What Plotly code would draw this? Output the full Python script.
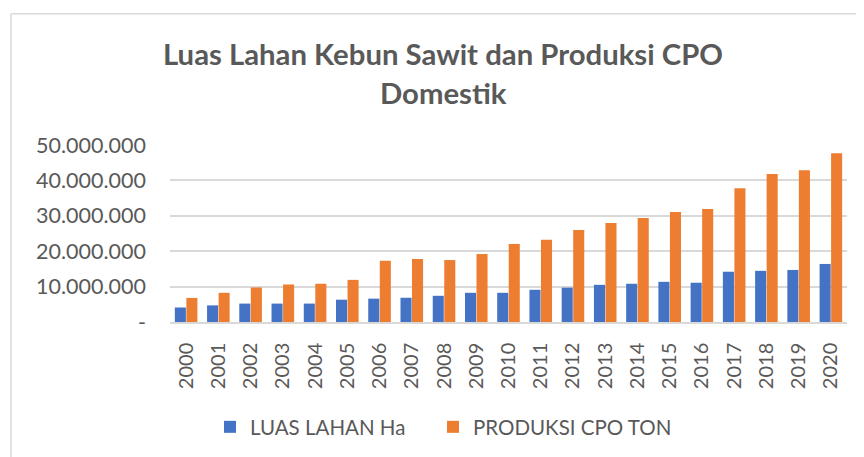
import plotly.graph_objects as go

years = [str(y) for y in range(2000, 2021)]
luas_lahan_ha = [4.1e6, 4.7e6, 5.2e6, 5.2e6, 5.2e6, 6.3e6, 6.6e6, 6.85e6, 7.4e6, 8.25e6,
                 8.25e6, 9.1e6, 9.7e6, 10.5e6, 10.8e6, 11.35e6, 11.1e6, 14.2e6, 14.45e6, 14.7e6, 16.4e6]
produksi_cpo_ton = [6.8e6, 8.25e6, 9.75e6, 10.6e6, 10.8e6, 11.9e6, 17.3e6, 17.8e6, 17.5e6, 19.2e6,
                    22.05e6, 23.2e6, 26.0e6, 28.0e6, 29.4e6, 31.1e6, 31.9e6, 37.8e6, 41.8e6, 42.9e6, 47.7e6]
y_tickvals = [0, 10e6, 20e6, 30e6, 40e6, 50e6]
y_ticktext = ["-", "10.000.000", "20.000.000", "30.000.000", "40.000.000", "50.000.000"]
title_lines = ["Luas Lahan Kebun Sawit dan Produksi CPO", "Domestik"]

FONT = "Lato"
GREY = "#595959"

# page offset caused by the default body margin
OFF = 8
W, H = 864 - OFF, 457 - OFF
# plot area in page pixels
PX0, PX1, PY0, PY1 = 170, 847, 144.7, 322.3
L = PX0 - OFF
R = W - (PX1 - OFF)
T = PY0 - OFF
B = H - (PY1 - OFF)
pw, ph = PX1 - PX0, PY1 - PY0


def px_x(px):
    return (px - PX0) / pw


def px_y(py):
    return (PY1 - py) / ph


def cx(px):
    return (px - OFF) / W


def cy(py):
    return (H - (py - OFF)) / H


fig = go.Figure()
fig.add_trace(go.Bar(x=years, y=luas_lahan_ha, name="LUAS LAHAN Ha", legend="legend2",
                     marker=dict(color="#4472C4", line=dict(width=0))))
fig.add_trace(go.Bar(x=years, y=produksi_cpo_ton, name="PRODUKSI CPO TON", legend="legend3",
                     marker=dict(color="#ED7D31", line=dict(width=0))))

legend_common = dict(orientation="h", xanchor="left", yanchor="middle",
                     xref="container", yref="container", y=cy(427),
                     font=dict(size=20.5, color=GREY), bgcolor="rgba(0,0,0,0)")

fig.update_layout(
    width=W, height=H,
    margin=dict(l=L, r=R, t=T, b=B, autoexpand=False),
    paper_bgcolor="white", plot_bgcolor="white",
    barmode="group", bargap=0.285, bargroupgap=0.04,
    font=dict(family=FONT, color=GREY),
    xaxis=dict(type="category", tickangle=-90, tickfont=dict(size=20, color=GREY),
               showgrid=False, showline=True, linecolor="#D9D9D9", linewidth=1.5,
               ticks="", ticklabelstandoff=11),
    yaxis=dict(range=[0, 50e6], tickvals=y_tickvals, ticktext=y_ticktext,
               tickfont=dict(size=21.5, color=GREY), showgrid=True, gridcolor="#D9D9D9",
               gridwidth=1.5, zeroline=False, showline=False, ticks="",
               ticklabelstandoff=23),
    legend2=dict(x=cx(210), **legend_common),
    legend3=dict(x=cx(433), **legend_common),
    annotations=[
        dict(text="<b>%s</b>" % title_lines[0], xref="paper", yref="paper",
             x=px_x(443), y=px_y(53), xanchor="center", yanchor="middle", showarrow=False,
             font=dict(family=FONT, size=29.3, color=GREY)),
        dict(text="<b>%s</b>" % title_lines[1], xref="paper", yref="paper",
             x=px_x(443), y=px_y(92), xanchor="center", yanchor="middle", showarrow=False,
             font=dict(family=FONT, size=29.3, color=GREY)),
    ],
    shapes=[
        dict(type="line", xref="paper", yref="paper", x0=px_x(11), x1=px_x(900),
             y0=px_y(13), y1=px_y(13), line=dict(color="#D9D9D9", width=1.5)),
        dict(type="line", xref="paper", yref="paper", x0=px_x(11), x1=px_x(11),
             y0=px_y(13), y1=px_y(500), line=dict(color="#D9D9D9", width=1.5)),
    ],
)

fig.write_html("out.html")
